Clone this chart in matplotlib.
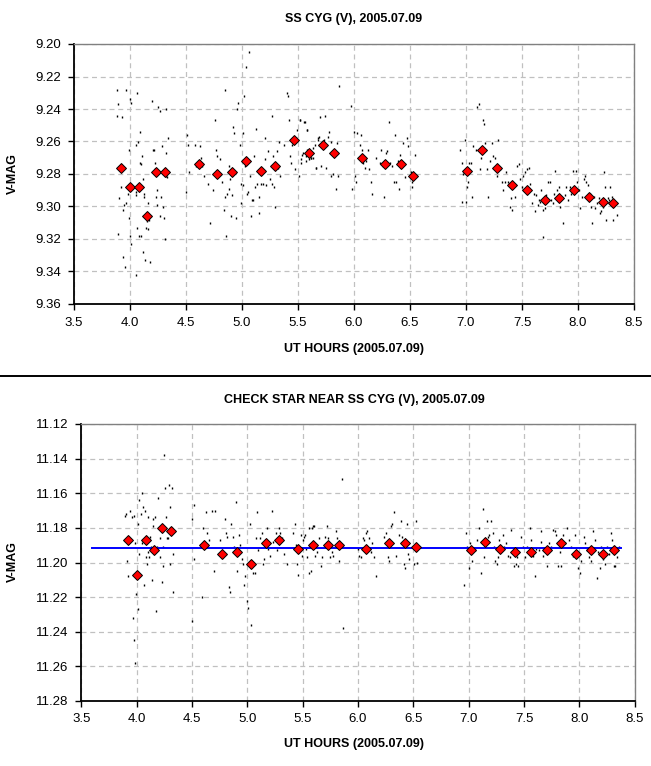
import numpy as np
import matplotlib
matplotlib.use('Agg')
import matplotlib.pyplot as plt
from matplotlib.lines import Line2D

plt.rcParams['font.family'] = ['Liberation Sans', 'DejaVu Sans']

# ---- data ----
# SS CYG binned means
top_mean_hours = [3.917, 3.997, 4.080, 4.155, 4.232, 4.313, 4.616, 4.777, 4.911, 5.039,
                  5.167, 5.295, 5.464, 5.597, 5.722, 5.821, 6.072, 6.281, 6.421, 6.528,
                  7.012, 7.146, 7.281, 7.415, 7.549, 7.701, 7.827, 7.961, 8.096, 8.221, 8.310]
top_mean_mags = [9.276, 9.288, 9.288, 9.306, 9.279, 9.279, 9.274, 9.280, 9.279, 9.272,
                 9.278, 9.275, 9.259, 9.267, 9.262, 9.267, 9.270, 9.274, 9.274, 9.281,
                 9.278, 9.265, 9.276, 9.287, 9.290, 9.296, 9.295, 9.290, 9.294, 9.297, 9.298]

# SS CYG individual measurements (hour, mag)
top_dots = [
    (3.884, 9.228), (3.896, 9.237), (3.884, 9.244), (3.926, 9.245), (3.964, 9.228), (3.890, 9.317),
    (3.938, 9.331), (3.955, 9.337), (3.902, 9.295), (3.917, 9.288), (3.938, 9.302), (3.988, 9.265),
    (4.009, 9.236), (4.000, 9.234), (4.060, 9.230), (4.086, 9.254), (4.071, 9.260), (4.051, 9.262),
    (3.982, 9.292), (3.967, 9.298), (3.943, 9.299), (4.057, 9.293), (4.051, 9.291), (3.994, 9.307),
    (4.003, 9.318), (4.012, 9.323), (4.057, 9.342), (4.065, 9.313), (4.077, 9.318), (4.098, 9.318),
    (4.116, 9.328), (4.137, 9.333), (4.146, 9.313), (4.161, 9.314), (4.170, 9.308), (4.176, 9.334),
    (4.107, 9.269), (4.098, 9.274), (4.089, 9.273), (4.116, 9.283), (4.125, 9.292), (4.128, 9.294),
    (4.164, 9.298), (4.152, 9.309), (4.193, 9.235), (4.202, 9.265), (4.214, 9.265), (4.220, 9.277),
    (4.226, 9.273), (4.235, 9.294), (4.241, 9.299), (4.244, 9.290), (4.253, 9.239), (4.265, 9.241),
    (4.271, 9.306), (4.274, 9.294), (4.289, 9.263), (4.298, 9.300), (4.304, 9.307), (4.313, 9.320),
    (4.318, 9.240), (4.324, 9.267), (4.339, 9.258), (4.330, 9.282), (4.318, 9.281),
    (4.506, 9.256), (4.518, 9.262), (4.503, 9.291), (4.527, 9.279), (4.580, 9.262), (4.592, 9.275),
    (4.622, 9.263), (4.637, 9.270), (4.646, 9.275), (4.658, 9.281), (4.699, 9.286), (4.717, 9.310),
    (4.741, 9.290), (4.762, 9.247), (4.771, 9.265), (4.774, 9.269), (4.807, 9.271), (4.821, 9.285),
    (4.839, 9.302), (4.848, 9.228), (4.845, 9.294), (4.854, 9.318), (4.869, 9.292), (4.881, 9.289),
    (4.884, 9.275), (4.890, 9.283), (4.899, 9.306), (4.911, 9.293), (4.923, 9.251), (4.932, 9.255),
    (4.949, 9.307), (4.955, 9.240), (4.964, 9.236), (4.979, 9.262), (4.988, 9.286), (4.994, 9.298),
    (5.006, 9.287), (5.012, 9.255), (5.018, 9.232), (5.024, 9.275), (5.036, 9.214), (5.063, 9.205),
    (5.048, 9.292), (5.057, 9.291), (5.068, 9.281), (5.083, 9.306), (5.092, 9.296), (5.098, 9.296),
    (5.107, 9.269), (5.119, 9.288), (5.128, 9.252), (5.134, 9.286), (5.152, 9.294), (5.152, 9.304),
    (5.167, 9.286), (5.190, 9.286), (5.202, 9.258), (5.205, 9.271), (5.217, 9.287), (5.232, 9.266),
    (5.250, 9.283), (5.265, 9.244), (5.271, 9.286), (5.274, 9.269), (5.286, 9.288), (5.295, 9.300),
    (5.310, 9.266), (5.321, 9.276), (5.333, 9.260), (5.339, 9.281), (5.372, 9.262), (5.402, 9.230),
    (5.411, 9.232), (5.420, 9.247), (5.429, 9.269), (5.435, 9.273), (5.449, 9.262), (5.470, 9.277),
    (5.479, 9.258), (5.491, 9.253), (5.506, 9.281), (5.515, 9.247), (5.524, 9.273), (5.536, 9.268),
    (5.560, 9.248), (5.568, 9.269), (5.577, 9.253), (5.583, 9.265), (5.595, 9.271), (5.619, 9.270),
    (5.634, 9.264), (5.649, 9.262), (5.661, 9.276), (5.679, 9.258), (5.688, 9.262),
    (5.519, 9.247), (5.558, 9.248), (5.579, 9.253), (5.528, 9.271), (5.573, 9.272), (5.543, 9.267),
    (5.618, 9.270), (5.633, 9.270), (5.657, 9.276), (5.678, 9.259), (5.684, 9.257), (5.699, 9.245),
    (5.707, 9.275), (5.737, 9.244), (5.752, 9.276), (5.728, 9.259), (5.767, 9.257), (5.776, 9.254),
    (5.791, 9.260), (5.797, 9.281), (5.812, 9.280), (5.827, 9.268), (5.836, 9.289), (5.848, 9.261),
    (5.857, 9.281), (5.866, 9.226),
    (5.976, 9.238), (5.985, 9.289), (6.000, 9.254), (6.006, 9.281), (6.015, 9.285), (6.030, 9.255),
    (6.051, 9.262), (6.066, 9.256), (6.075, 9.265), (6.081, 9.273), (6.090, 9.271), (6.099, 9.276),
    (6.110, 9.272), (6.125, 9.265), (6.134, 9.277), (6.149, 9.285), (6.164, 9.292), (6.194, 9.270),
    (6.230, 9.273), (6.245, 9.265), (6.260, 9.275), (6.269, 9.294), (6.284, 9.267), (6.299, 9.266),
    (6.313, 9.248), (6.325, 9.273), (6.343, 9.275), (6.358, 9.285), (6.370, 9.256), (6.379, 9.285),
    (6.397, 9.272), (6.403, 9.289), (6.415, 9.268), (6.439, 9.261), (6.454, 9.282), (6.475, 9.258),
    (6.484, 9.263), (6.507, 9.279), (6.519, 9.285), (6.522, 9.288), (6.543, 9.268),
    (6.946, 9.265), (6.961, 9.273), (6.967, 9.297), (6.976, 9.280), (6.988, 9.259), (6.997, 9.297),
    (7.006, 9.288), (7.015, 9.285), (7.030, 9.273), (7.045, 9.273), (7.057, 9.294), (7.066, 9.263),
    (7.087, 9.265), (7.101, 9.239), (7.116, 9.237), (7.125, 9.277), (7.134, 9.270), (7.149, 9.247),
    (7.158, 9.249), (7.170, 9.261), (7.185, 9.277), (7.200, 9.294), (7.215, 9.272), (7.230, 9.261),
    (7.245, 9.269), (7.260, 9.270), (7.275, 9.281), (7.290, 9.259), (7.307, 9.277), (7.322, 9.285),
    (7.334, 9.290), (7.346, 9.285), (7.358, 9.279), (7.373, 9.285), (7.385, 9.287), (7.394, 9.300),
    (7.403, 9.295), (7.412, 9.302), (7.424, 9.288), (7.439, 9.294), (7.454, 9.275), (7.469, 9.274),
    (7.484, 9.283), (7.499, 9.288), (7.513, 9.281), (7.531, 9.279), (7.543, 9.277), (7.561, 9.276),
    (7.573, 9.286), (7.588, 9.298), (7.603, 9.292), (7.615, 9.303), (7.627, 9.293), (7.639, 9.299),
    (7.651, 9.296), (7.663, 9.297), (7.672, 9.290), (7.684, 9.302), (7.690, 9.319), (7.701, 9.301),
    (7.716, 9.293), (7.728, 9.285), (7.746, 9.285), (7.758, 9.296), (7.773, 9.298), (7.788, 9.292),
    (7.797, 9.278), (7.812, 9.290), (7.827, 9.288), (7.842, 9.300), (7.857, 9.295), (7.866, 9.310),
    (7.881, 9.293), (7.893, 9.288), (7.907, 9.296), (7.925, 9.288), (7.940, 9.292), (7.955, 9.278),
    (7.967, 9.288), (7.979, 9.278), (7.991, 9.285), (8.006, 9.290), (8.021, 9.301), (8.036, 9.294),
    (8.051, 9.283), (8.060, 9.281), (8.072, 9.285), (8.087, 9.287), (8.104, 9.292), (8.116, 9.300),
    (8.128, 9.310), (8.140, 9.294), (8.155, 9.301), (8.170, 9.298), (8.185, 9.295), (8.197, 9.304),
    (8.209, 9.303), (8.224, 9.300), (8.230, 9.279), (8.239, 9.288), (8.254, 9.308), (8.266, 9.295),
    (8.278, 9.296), (8.288, 9.288), (8.301, 9.294), (8.316, 9.308), (8.334, 9.298), (8.349, 9.305),
]

# check star binned means
chk_mean_hours = [3.925, 4.000, 4.081, 4.154, 4.232, 4.313, 4.608, 4.774, 4.910, 5.033,
                  5.172, 5.286, 5.458, 5.596, 5.728, 5.828, 6.073, 6.281, 6.426, 6.526,
                  7.018, 7.151, 7.287, 7.423, 7.559, 7.704, 7.831, 7.967, 8.103, 8.218, 8.311]
chk_mean_mags = [11.187, 11.207, 11.187, 11.193, 11.180, 11.182, 11.190, 11.195, 11.194, 11.201,
                 11.189, 11.187, 11.192, 11.190, 11.190, 11.190, 11.192, 11.189, 11.189, 11.191,
                 11.193, 11.188, 11.192, 11.194, 11.194, 11.193, 11.189, 11.195, 11.193, 11.195, 11.193]

chk_dots = [
    (3.895, 11.173), (3.904, 11.172), (3.940, 11.170), (3.946, 11.187), (3.910, 11.199), (3.919, 11.208),
    (3.955, 11.174), (3.976, 11.173), (3.985, 11.189), (3.994, 11.218), (3.970, 11.232), (3.976, 11.245),
    (3.982, 11.258), (4.009, 11.178), (4.015, 11.227), (4.018, 11.195), (4.024, 11.164), (4.036, 11.172),
    (4.045, 11.189), (4.051, 11.160), (4.060, 11.168), (4.066, 11.213), (4.075, 11.170), (4.084, 11.197),
    (4.096, 11.201), (4.105, 11.174), (4.099, 11.194), (4.114, 11.197), (4.120, 11.185), (4.127, 11.191),
    (4.142, 11.210), (4.145, 11.175), (4.151, 11.179), (4.166, 11.174), (4.178, 11.228), (4.187, 11.191),
    (4.196, 11.163), (4.208, 11.186), (4.211, 11.197), (4.229, 11.211), (4.235, 11.202), (4.241, 11.191),
    (4.250, 11.138), (4.259, 11.157), (4.265, 11.174), (4.271, 11.186), (4.286, 11.186), (4.295, 11.155),
    (4.301, 11.168), (4.301, 11.201), (4.316, 11.157), (4.325, 11.195), (4.331, 11.217),
    (4.521, 11.167), (4.503, 11.175), (4.497, 11.234), (4.518, 11.198), (4.587, 11.220), (4.602, 11.180),
    (4.623, 11.171), (4.636, 11.183), (4.651, 11.187), (4.678, 11.170), (4.699, 11.205), (4.711, 11.170),
    (4.753, 11.187), (4.798, 11.175), (4.804, 11.183), (4.813, 11.185), (4.831, 11.214), (4.843, 11.217),
    (4.855, 11.178), (4.867, 11.185), (4.880, 11.191), (4.898, 11.165), (4.910, 11.205), (4.925, 11.184),
    (4.934, 11.190), (4.949, 11.198), (4.958, 11.201), (4.970, 11.213), (4.979, 11.208), (4.994, 11.222),
    (5.003, 11.226), (5.024, 11.178), (5.033, 11.236), (5.048, 11.206), (5.069, 11.206), (5.081, 11.186),
    (5.090, 11.171), (5.099, 11.193), (5.114, 11.186), (5.130, 11.183), (5.145, 11.201), (5.154, 11.198),
    (5.178, 11.180), (5.190, 11.192), (5.205, 11.196), (5.223, 11.170), (5.235, 11.188), (5.256, 11.183),
    (5.271, 11.193), (5.289, 11.180), (5.295, 11.183), (5.310, 11.186), (5.331, 11.195), (5.355, 11.201),
    (5.410, 11.183), (5.431, 11.178), (5.440, 11.190), (5.452, 11.201), (5.461, 11.207), (5.482, 11.184),
    (5.497, 11.196), (5.506, 11.187), (5.521, 11.184), (5.536, 11.197), (5.560, 11.206), (5.581, 11.180),
    (5.602, 11.179), (5.617, 11.191), (5.633, 11.194),
    (5.511, 11.185), (5.526, 11.192), (5.556, 11.180), (5.571, 11.205), (5.592, 11.179), (5.616, 11.196),
    (5.625, 11.191), (5.647, 11.186), (5.668, 11.202), (5.677, 11.197), (5.698, 11.185), (5.716, 11.179),
    (5.731, 11.186), (5.746, 11.197), (5.761, 11.194), (5.776, 11.196), (5.798, 11.182), (5.813, 11.186),
    (5.828, 11.199), (5.852, 11.152), (5.864, 11.238),
    (6.000, 11.192), (6.012, 11.196), (6.024, 11.197), (6.042, 11.186), (6.054, 11.187), (6.069, 11.183),
    (6.085, 11.182), (6.100, 11.186), (6.115, 11.194), (6.130, 11.189), (6.145, 11.197), (6.166, 11.208),
    (6.236, 11.185), (6.251, 11.183), (6.272, 11.197), (6.284, 11.199), (6.296, 11.179), (6.311, 11.178),
    (6.326, 11.171), (6.341, 11.196), (6.372, 11.184), (6.393, 11.176), (6.402, 11.185), (6.417, 11.201),
    (6.426, 11.203), (6.441, 11.178), (6.453, 11.195), (6.462, 11.198), (6.508, 11.201), (6.526, 11.176),
    (6.535, 11.200),
    (6.961, 11.213), (6.976, 11.183), (6.985, 11.191), (7.000, 11.203), (7.015, 11.189), (7.030, 11.199),
    (7.057, 11.193), (7.076, 11.187), (7.097, 11.180), (7.112, 11.206), (7.127, 11.169), (7.142, 11.197),
    (7.163, 11.176), (7.172, 11.185), (7.187, 11.184), (7.202, 11.176), (7.218, 11.183), (7.227, 11.191),
    (7.242, 11.199), (7.254, 11.201), (7.263, 11.197), (7.278, 11.187), (7.308, 11.184), (7.323, 11.191),
    (7.338, 11.189), (7.353, 11.196), (7.375, 11.197), (7.384, 11.181), (7.405, 11.202), (7.414, 11.192),
    (7.429, 11.201), (7.438, 11.197), (7.450, 11.202), (7.474, 11.185), (7.489, 11.191), (7.511, 11.197),
    (7.529, 11.191), (7.553, 11.180), (7.565, 11.187), (7.580, 11.196), (7.595, 11.208), (7.610, 11.192),
    (7.631, 11.193), (7.649, 11.182), (7.655, 11.188), (7.671, 11.196), (7.686, 11.192), (7.710, 11.202),
    (7.722, 11.189), (7.740, 11.191), (7.761, 11.181), (7.776, 11.182), (7.792, 11.184), (7.807, 11.202),
    (7.822, 11.194), (7.837, 11.202), (7.852, 11.184), (7.867, 11.189), (7.885, 11.180), (7.903, 11.187),
    (7.921, 11.191), (7.943, 11.196), (7.958, 11.184), (7.973, 11.195), (7.988, 11.203), (8.003, 11.206),
    (8.018, 11.199), (8.042, 11.185), (8.054, 11.189), (8.073, 11.193), (8.085, 11.197), (8.103, 11.199),
    (8.124, 11.182), (8.139, 11.187), (8.157, 11.209), (8.169, 11.194), (8.184, 11.203), (8.199, 11.191),
    (8.215, 11.198), (8.236, 11.201), (8.254, 11.191), (8.272, 11.195), (8.284, 11.183), (8.296, 11.187),
    (8.311, 11.202), (8.326, 11.202), (8.344, 11.197), (8.356, 11.191),
]

# check star average (blue line)
chk_avg_hours = [3.6, 8.38]
chk_avg_mag = 11.1915

x_ticks = np.arange(3.5, 8.51, 0.5)
top_yticks = np.arange(9.20, 9.361, 0.02)
chk_yticks = np.arange(11.12, 11.281, 0.02)


def style_axes(ax, xlim, ylim, yticks):
    ax.set_xlim(xlim)
    ax.set_ylim(ylim[1], ylim[0])  # magnitudes: bright at top
    ax.set_xticks(x_ticks)
    ax.set_xticklabels([f'{v:.1f}' for v in x_ticks])
    ax.set_yticks(yticks)
    ax.set_yticklabels([f'{v:.2f}' for v in yticks])
    ax.grid(True, color='#c0c0c0', linestyle=(0, (4, 3)), linewidth=0.9)
    ax.set_axisbelow(True)
    for s in ['top', 'right']:
        ax.spines[s].set_color('#808080')
        ax.spines[s].set_linewidth(1.0)
    for s in ['left', 'bottom']:
        ax.spines[s].set_color('black')
        ax.spines[s].set_linewidth(1.3)
    ax.tick_params(direction='out', length=4, width=1, labelsize=9.5, pad=5)


def draw_dots(ax, dots):
    d = np.array(dots)
    # tiny vertical dashes, like the original single-pixel points
    ax.plot(d[:, 0], d[:, 1], linestyle='none', marker='|', markersize=1.8,
            markeredgewidth=1.0, color='black', antialiased=False, zorder=2)


def draw_means(ax, hours, mags):
    ax.plot(hours, mags, linestyle='none', marker='D', markersize=5.6,
            markerfacecolor='#ff0000', markeredgecolor='black', markeredgewidth=0.7, zorder=4)


fig = plt.figure(figsize=(6.51, 7.66), dpi=100)
W, H = 651, 766

# ---- top panel: SS CYG ----
ax1 = fig.add_axes([74 / W, 1 - 304 / H, 560 / W, 260 / H])
style_axes(ax1, (3.5, 8.5), (9.20, 9.36), top_yticks)
draw_dots(ax1, top_dots)
draw_means(ax1, top_mean_hours, top_mean_mags)
fig.text(354 / W, 1 - 19 / H, 'SS CYG (V), 2005.07.09', ha='center', va='center',
         fontsize=9, fontweight='bold')
fig.text(354 / W, 1 - 349 / H, 'UT HOURS (2005.07.09)', ha='center', va='center',
         fontsize=9, fontweight='bold')
fig.text(13 / W, 1 - 174 / H, 'V-MAG', ha='center', va='center', rotation=90,
         fontsize=9, fontweight='bold')

# separator between the two charts
fig.add_artist(Line2D([0, 1], [1 - 376 / H, 1 - 376 / H], color='black', linewidth=1.4,
                      transform=fig.transFigure))

# ---- bottom panel: check star ----
ax2 = fig.add_axes([81.3 / W, 1 - 701 / H, 553.4 / W, 277 / H])
style_axes(ax2, (3.5, 8.5), (11.12, 11.28), chk_yticks)
draw_dots(ax2, chk_dots)
ax2.plot(chk_avg_hours, [chk_avg_mag] * len(chk_avg_hours), color='#0000ff', linewidth=1.4, zorder=3)
draw_means(ax2, chk_mean_hours, chk_mean_mags)
fig.text(354 / W, 1 - 400 / H, 'CHECK STAR NEAR SS CYG (V), 2005.07.09', ha='center', va='center',
         fontsize=9, fontweight='bold')
fig.text(354 / W, 1 - 744 / H, 'UT HOURS (2005.07.09)', ha='center', va='center',
         fontsize=9, fontweight='bold')
fig.text(13 / W, 1 - 562 / H, 'V-MAG', ha='center', va='center', rotation=90,
         fontsize=9, fontweight='bold')

fig.savefig('out.png', dpi=100)
